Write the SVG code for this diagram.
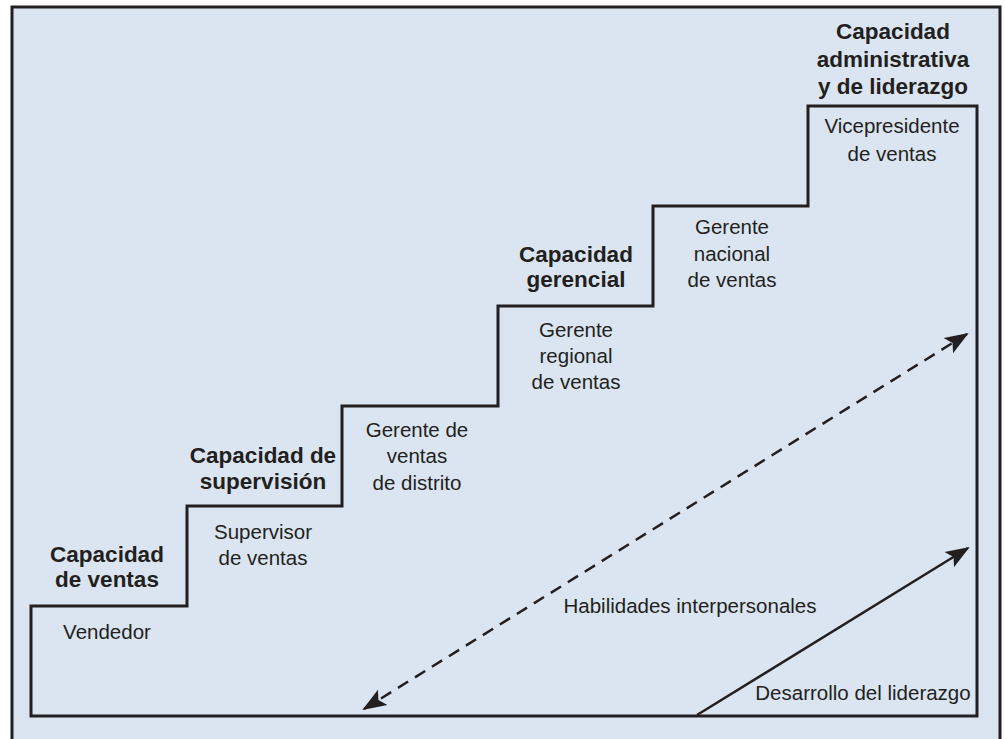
<svg xmlns="http://www.w3.org/2000/svg" width="1005" height="739" viewBox="0 0 1005 739">
<style>
.lbl{font-family:"Liberation Sans",Arial,sans-serif;font-size:20.5px;fill:#231f20;text-anchor:middle}
.bold{font-family:"Liberation Sans",Arial,sans-serif;font-size:22.5px;font-weight:bold;fill:#231f20;text-anchor:middle}
.line{fill:none;stroke:#231f20;stroke-width:3}
.conn{fill:none;stroke:#231f20;stroke-width:2.5}
</style>
<defs>
<marker id="ah" markerUnits="userSpaceOnUse" markerWidth="26" markerHeight="22" refX="22" refY="9" orient="auto-start-reverse" viewBox="0 0 26 18">
<path d="M0,0 L24,9 L0,18 L5,9 Z" fill="#231f20"/>
</marker>
</defs>
<rect width="1005" height="739" fill="#ffffff"/>
<rect id="frame" x="12" y="7" width="988" height="740" fill="#dae5f1" stroke="#231f20" stroke-width="3"/>
<path id="staircase" class="line" d="M31,716 L31,606 L187,606 L187,506 L342,506 L342,406 L498,406 L498,306 L653,306 L653,206 L808,206 L808,106 L977,106 L977,716 Z"/>
<g id="connectors">
<line class="conn" x1="364" y1="709" x2="967" y2="334" stroke-dasharray="12,8" marker-start="url(#ah)" marker-end="url(#ah)"/>
<line class="conn" x1="697" y1="715" x2="968" y2="548" marker-end="url(#ah)"/>
</g>
<g id="capacidad-ventas"><text class="bold" x="107" y="562">Capacidad</text><text class="bold" x="107" y="587">de ventas</text></g>
<g id="vendedor"><text class="lbl" x="107" y="639">Vendedor</text></g>
<g id="capacidad-supervision"><text class="bold" x="263" y="463">Capacidad de</text><text class="bold" x="263" y="489">supervisión</text></g>
<g id="supervisor"><text class="lbl" x="263" y="539">Supervisor</text><text class="lbl" x="263" y="565">de ventas</text></g>
<g id="gerente-distrito"><text class="lbl" x="417" y="437">Gerente de</text><text class="lbl" x="417" y="463">ventas</text><text class="lbl" x="417" y="490">de distrito</text></g>
<g id="capacidad-gerencial"><text class="bold" x="576" y="262">Capacidad</text><text class="bold" x="576" y="287">gerencial</text></g>
<g id="gerente-regional"><text class="lbl" x="576" y="337">Gerente</text><text class="lbl" x="576" y="363">regional</text><text class="lbl" x="576" y="389">de ventas</text></g>
<g id="gerente-nacional"><text class="lbl" x="732" y="234">Gerente</text><text class="lbl" x="732" y="261">nacional</text><text class="lbl" x="732" y="287">de ventas</text></g>
<g id="capacidad-administrativa"><text class="bold" x="893" y="39">Capacidad</text><text class="bold" x="893" y="67">administrativa</text><text class="bold" x="893" y="94">y de liderazgo</text></g>
<g id="vicepresidente"><text class="lbl" x="892" y="133">Vicepresidente</text><text class="lbl" x="892" y="161">de ventas</text></g>
<g id="habilidades"><text class="lbl" x="690" y="613">Habilidades interpersonales</text></g>
<g id="desarrollo"><text class="lbl" x="863" y="700">Desarrollo del liderazgo</text></g>
</svg>
